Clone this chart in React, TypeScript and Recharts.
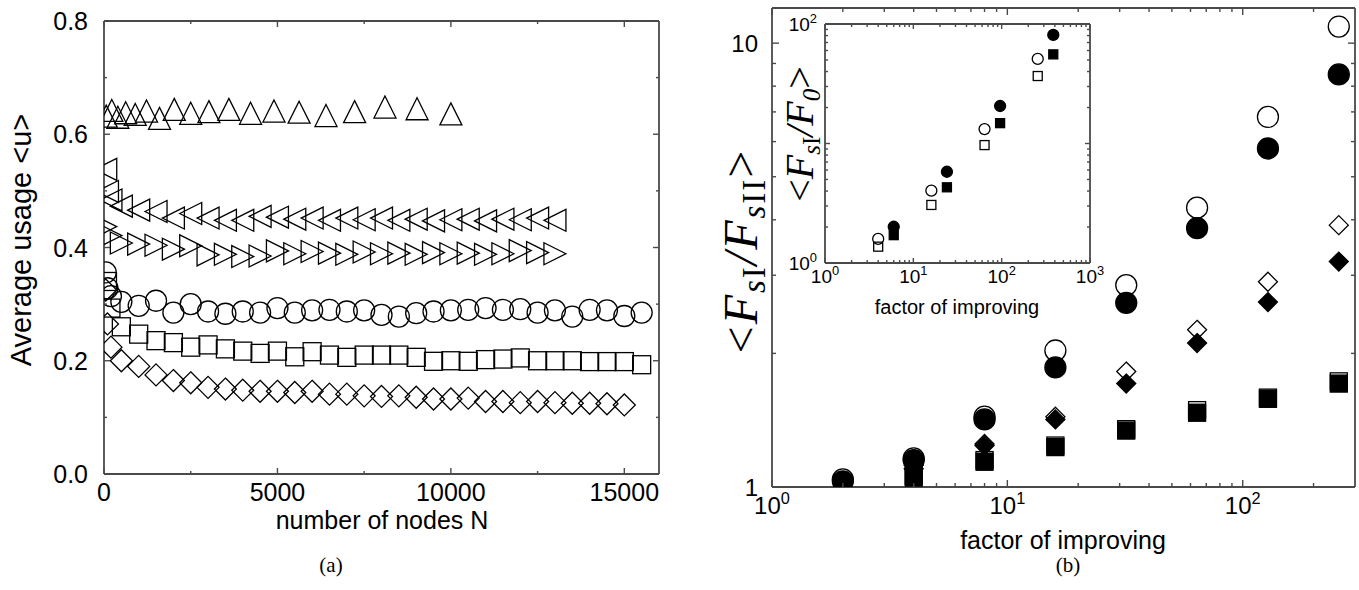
import React from "react";
import { ScatterChart, Scatter, XAxis, YAxis } from "recharts";

const SANS = "'Liberation Sans', Arial, Helvetica, sans-serif";
const SERIF = "'Liberation Serif', 'Times New Roman', serif";
const AX = "#4a4a4a";

// ---------- panel (a): average usage vs number of nodes ----------
const nLattice = [64, 225, 400, 625, 900, 1225, 1600, 2025, 2500, 3025, 3600, 4225, 4900, 5625, 6400, 7225, 8100, 9025, 10000];
const usageUp = [0.632, 0.642, 0.63, 0.638, 0.635, 0.641, 0.628, 0.644, 0.637, 0.64, 0.644, 0.637, 0.641, 0.639, 0.633, 0.64, 0.648, 0.645, 0.636];

const nSteps = [500, 1000, 1500, 2000, 2500, 3000, 3500, 4000, 4500, 5000, 5500, 6000, 6500, 7000, 7500, 8000, 8500, 9000, 9500, 10000, 10500, 11000, 11500, 12000, 12500, 13000, 13500, 14000, 14500, 15000, 15500];

const nLeft = [50, 100, 200, ...nSteps.slice(0, 26)];
const usageLeft = [0.538, 0.499, 0.484, 0.473, 0.466, 0.4635, 0.452, 0.46, 0.452, 0.448, 0.448, 0.455, 0.4535, 0.45, 0.452, 0.448, 0.452, 0.449, 0.452, 0.448, 0.45, 0.447, 0.449, 0.45, 0.447, 0.45, 0.449, 0.452, 0.448];

const nRight = [50, 200, ...nSteps.slice(0, 26)];
const usageRight = [0.437, 0.421, 0.408, 0.406, 0.404, 0.397, 0.403, 0.387, 0.388, 0.384, 0.385, 0.394, 0.389, 0.393, 0.39, 0.388, 0.392, 0.389, 0.39, 0.388, 0.391, 0.389, 0.39, 0.388, 0.389, 0.3945, 0.391, 0.389];

const nCircle = [50, 100, 200, ...nSteps];
const usageCircle = [0.356, 0.328, 0.314, 0.304, 0.297, 0.306, 0.285, 0.3, 0.287, 0.283, 0.287, 0.285, 0.293, 0.285, 0.289, 0.29, 0.287, 0.289, 0.281, 0.278, 0.284, 0.287, 0.289, 0.29, 0.293, 0.29, 0.291, 0.285, 0.289, 0.278, 0.29, 0.289, 0.279, 0.285];

const nSquare = [100, 200, ...nSteps];
const usageSquare = [0.34, 0.293, 0.26, 0.247, 0.2355, 0.232, 0.224, 0.228, 0.221, 0.217, 0.213, 0.217, 0.207, 0.216, 0.21, 0.206, 0.21, 0.21, 0.21, 0.206, 0.199, 0.2, 0.199, 0.202, 0.203, 0.205, 0.2, 0.2, 0.2, 0.1985, 0.1985, 0.1985, 0.193];

const nDiamond = [50, 100, 200, ...nSteps.slice(0, 30)];
const usageDiamond = [0.325, 0.265, 0.224, 0.2, 0.19, 0.175, 0.165, 0.161, 0.153, 0.15, 0.148, 0.146, 0.146, 0.144, 0.146, 0.141, 0.141, 0.138, 0.137, 0.138, 0.1355, 0.1325, 0.1325, 0.134, 0.128, 0.128, 0.126, 0.128, 0.126, 0.125, 0.125, 0.124, 0.122];

const xTicksA = [0, 2500, 5000, 7500, 10000, 12500, 15000];
const xMajorA = [0, 5000, 10000, 15000];
const yTicksA = [0, 0.1, 0.2, 0.3, 0.4, 0.5, 0.6, 0.7, 0.8];
const yMajorA = [0, 0.2, 0.4, 0.6, 0.8];

// ---------- panel (b): ratio vs factor of improving ----------
const factor = [2, 4, 8, 16, 32, 64, 128, 256];
const openCircle = [1.04, 1.16, 1.44, 2.03, 2.85, 4.26, 6.82, 10.9];
const filledCircle = [1.03, 1.15, 1.42, 1.86, 2.6, 3.83, 5.79, 8.5];
const openDiamond = [1.03, 1.12, 1.25, 1.44, 1.82, 2.26, 2.9, 3.89];
const filledDiamond = [1.02, 1.1, 1.24, 1.42, 1.71, 2.11, 2.61, 3.22];
const openSquare = [1.02, 1.06, 1.15, 1.24, 1.35, 1.49, 1.59, 1.73];
const filledSquare = [1.02, 1.05, 1.14, 1.23, 1.34, 1.47, 1.58, 1.71];

const xTicksB = [1, 2, 3, 4, 5, 6, 7, 8, 9, 10, 20, 30, 40, 50, 60, 70, 80, 90, 100, 200];
const yTicksB = [1, 2, 3, 4, 5, 6, 7, 8, 9, 10];

// inset
const insetOpenX = [4, 16, 64, 256];
const insetOpenCircle = [1.59, 4.03, 13.2, 51];
const insetOpenSquare = [1.37, 3.06, 9.7, 36.7];
const insetFilledX = [6, 24, 96, 384];
const insetFilledCircle = [2.01, 5.8, 20.6, 81];
const insetFilledSquare = [1.71, 4.3, 14.8, 55.7];

const xTicksIn = [1, 2, 3, 4, 5, 6, 7, 8, 9, 10, 20, 30, 40, 50, 60, 70, 80, 90, 100, 200, 300, 400, 500, 600, 700, 800, 900, 1000];
const yTicksIn = [1, 2, 3, 4, 5, 6, 7, 8, 9, 10, 20, 30, 40, 50, 60, 70, 80, 90, 100];
const decades = [1, 10, 100, 1000];

const pts = (xs: number[], ys: number[]) => xs.map((x, i) => ({ x, y: ys[i] }));

type Kind = "circle" | "square" | "diamond" | "up" | "left" | "right";

function Sym({ cx, cy, kind, size, filled }: { cx: number; cy: number; kind: Kind; size: number; filled?: boolean }) {
  const h = size / 2;
  const common = { fill: filled ? "#000" : "none", stroke: "#000", strokeWidth: 1.3 };
  if (kind === "circle") return <circle cx={cx} cy={cy} r={h} {...common} />;
  if (kind === "square") return <rect x={cx - h} y={cy - h} width={size} height={size} {...common} />;
  let p: number[][] = [];
  if (kind === "diamond") p = [[cx, cy - h], [cx + h, cy], [cx, cy + h], [cx - h, cy]];
  if (kind === "up") p = [[cx, cy - h], [cx + h, cy + h], [cx - h, cy + h]];
  if (kind === "left") p = [[cx - h, cy], [cx + h, cy - h], [cx + h, cy + h]];
  if (kind === "right") p = [[cx + h, cy], [cx - h, cy - h], [cx - h, cy + h]];
  return <polygon points={p.map((q) => q.join(",")).join(" ")} {...common} />;
}

const marker = (kind: Kind, size: number, filled = false) => (props: any) =>
  <Sym cx={props.cx} cy={props.cy} kind={kind} size={size} filled={filled} />;

type Side = "bottom" | "top" | "left" | "right";

function Pow({ k, fs }: { k: number; fs: number }) {
  return (
    <>
      <tspan>10</tspan>
      <tspan dy={-fs * 0.42} fontSize={fs * 0.68}>{k}</tspan>
    </>
  );
}

function makeTick(side: Side, majors: number[], long: number, short: number, label?: (v: number) => any, fs = 25, gap = 8) {
  return (p: any) => {
    const v = p.payload.value;
    const x = p.x;
    const y = p.y;
    const isMajor = majors.some((m) => Math.abs(m - v) < 1e-9);
    const L = isMajor ? long : short;
    let x2 = x;
    let y2 = y;
    if (side === "bottom") y2 = y - L;
    if (side === "top") y2 = y + L;
    if (side === "left") x2 = x + L;
    if (side === "right") x2 = x - L;
    let text = null;
    if (isMajor && label) {
      if (side === "bottom")
        text = (
          <text x={x} y={y + gap + fs * 0.72} textAnchor="middle" fontSize={fs} fontFamily={SANS} fill="#000">
            {label(v)}
          </text>
        );
      else
        text = (
          <text x={x - gap} y={y + fs * 0.36} textAnchor="end" fontSize={fs} fontFamily={SANS} fill="#000">
            {label(v)}
          </text>
        );
    }
    return (
      <g>
        <line x1={x} y1={y} x2={x2} y2={y2} stroke={AX} strokeWidth={1.4} />
        {text}
      </g>
    );
  };
}

const axisLine = { stroke: AX, strokeWidth: 1.8 };

// four axes around the plot: bottom/left carry labels, top/right only ticks
function Frame(props: {
  xDomain: number[]; yDomain: number[]; xTicks: number[]; yTicks: number[]; xMajor: number[]; yMajor: number[];
  log: boolean; long: number; short: number;
  xLabel?: (v: number) => any; yLabel?: (v: number) => any; fs: number; gap: number; yGap: number;
}) {
  const scale = props.log ? "log" : "linear";
  return [
    <XAxis key="xb" xAxisId="b" dataKey="x" type="number" scale={scale} domain={props.xDomain} allowDataOverflow ticks={props.xTicks}
      interval={0} height={1} tickSize={0} tickMargin={0} tickLine={false} axisLine={axisLine}
      tick={makeTick("bottom", props.xMajor, props.long, props.short, props.xLabel, props.fs, props.gap)} />,
    <XAxis key="xt" xAxisId="t" orientation="top" dataKey="x" type="number" scale={scale} domain={props.xDomain} allowDataOverflow ticks={props.xTicks}
      interval={0} height={1} tickSize={0} tickMargin={0} tickLine={false} axisLine={axisLine}
      tick={makeTick("top", props.xMajor, props.long, props.short)} />,
    <YAxis key="yl" yAxisId="l" dataKey="y" type="number" scale={scale} domain={props.yDomain} allowDataOverflow ticks={props.yTicks}
      interval={0} width={1} tickSize={0} tickMargin={0} tickLine={false} axisLine={axisLine}
      tick={makeTick("left", props.yMajor, props.long, props.short, props.yLabel, props.fs, props.yGap)} />,
    <YAxis key="yr" yAxisId="r" orientation="right" dataKey="y" type="number" scale={scale} domain={props.yDomain} allowDataOverflow ticks={props.yTicks}
      interval={0} width={1} tickSize={0} tickMargin={0} tickLine={false} axisLine={axisLine}
      tick={makeTick("right", props.yMajor, props.long, props.short)} />,
  ];
}

const S = (data: any[], shape: any, key: string) => (
  <Scatter key={key} xAxisId="b" yAxisId="l" data={data} shape={shape} isAnimationActive={false} />
);

function PanelA() {
  return (
    <ScatterChart width={680} height={590} margin={{ top: 20, right: 20, bottom: 115, left: 103 }}>
      {Frame({
        xDomain: [0, 16000], yDomain: [0, 0.8], xTicks: xTicksA, yTicks: yTicksA, xMajor: xMajorA, yMajor: yMajorA,
        log: false, long: 6, short: 3, xLabel: (v) => String(v), yLabel: (v) => v.toFixed(1), fs: 25, gap: 9, yGap: 16,
      })}
      {S(pts(nLattice, usageUp), marker("up", 22), "up")}
      {S(pts(nLeft, usageLeft), marker("left", 22), "left")}
      {S(pts(nRight, usageRight), marker("right", 22), "right")}
      {S(pts(nCircle, usageCircle), marker("circle", 21), "circle")}
      {S(pts(nSquare, usageSquare), marker("square", 18), "square")}
      {S(pts(nDiamond, usageDiamond), marker("diamond", 22), "diamond")}
    </ScatterChart>
  );
}

function PanelB() {
  return (
    <ScatterChart width={679} height={590} margin={{ top: 7, right: 3, bottom: 102, left: 91 }}>
      {Frame({
        xDomain: [1, 300], yDomain: [1, 12], xTicks: xTicksB, yTicks: yTicksB, xMajor: decades, yMajor: [1, 10],
        log: true, long: 7, short: 4,
        xLabel: (v) => <Pow k={Math.round(Math.log10(v))} fs={24} />, yLabel: (v) => String(v), fs: 24, gap: 10, yGap: 14,
      })}
      {S(pts(factor, openCircle), marker("circle", 21), "oc")}
      {S(pts(factor, filledCircle), marker("circle", 21, true), "fc")}
      {S(pts(factor, openDiamond), marker("diamond", 19), "od")}
      {S(pts(factor, filledDiamond), marker("diamond", 19, true), "fd")}
      {S(pts(factor, openSquare), marker("square", 17), "os")}
      {S(pts(factor, filledSquare), marker("square", 17, true), "fs")}
    </ScatterChart>
  );
}

function Inset() {
  return (
    <ScatterChart width={420} height={330} margin={{ top: 23, right: 29, bottom: 66, left: 124 }}>
      {Frame({
        xDomain: [1, 1000], yDomain: [1, 100], xTicks: xTicksIn, yTicks: yTicksIn, xMajor: decades, yMajor: [1, 10, 100],
        log: true, long: 5, short: 3,
        xLabel: (v) => <Pow k={Math.round(Math.log10(v))} fs={19} />,
        yLabel: (v) => (v === 10 ? "" : <Pow k={Math.round(Math.log10(v))} fs={19} />), fs: 19, gap: 6, yGap: 8,
      })}
      {S(pts(insetOpenX, insetOpenCircle), marker("circle", 11), "ioc")}
      {S(pts(insetOpenX, insetOpenSquare), marker("square", 9), "ios")}
      {S(pts(insetFilledX, insetFilledCircle), marker("circle", 11, true), "ifc")}
      {S(pts(insetFilledX, insetFilledSquare), marker("square", 9, true), "ifs")}
    </ScatterChart>
  );
}

export default function App() {
  return (
    <div style={{ position: "absolute", left: 0, top: 0, width: 1359, height: 590, background: "#fff" }}>
      <div style={{ position: "absolute", left: 0, top: 0 }}>
        <PanelA />
      </div>
      <div style={{ position: "absolute", left: 680, top: 0 }}>
        <PanelB />
      </div>
      <div style={{ position: "absolute", left: 700, top: 0 }}>
        <Inset />
      </div>
      <svg width={1359} height={590} style={{ position: "absolute", left: 0, top: 0, pointerEvents: "none" }}>
        <text x={0} y={0} transform="translate(31 240) rotate(-90)" textAnchor="middle" fontFamily={SANS} fontSize={29}>
          Average usage &lt;u&gt;
        </text>
        <text x={382} y={529} textAnchor="middle" fontFamily={SANS} fontSize={25}>
          number of nodes N
        </text>
        <text x={1063} y={549} textAnchor="middle" fontFamily={SANS} fontSize={25}>
          factor of improving
        </text>
        <text x={957} y={314} textAnchor="middle" fontFamily={SANS} fontSize={20}>
          factor of improving
        </text>
        <text x={0} y={0} transform="translate(757 251) rotate(-90)" textAnchor="middle" fontFamily={SERIF} fontSize={48} letterSpacing={2}>
          <tspan>&lt;</tspan>
          <tspan fontStyle="italic">F</tspan>
          <tspan fontSize={33} dy={8} fontStyle="italic">s</tspan>
          <tspan fontSize={33}>I</tspan>
          <tspan dy={-8} fontStyle="italic">/F</tspan>
          <tspan fontSize={33} dy={8} fontStyle="italic">s</tspan>
          <tspan fontSize={33}>II</tspan>
          <tspan dy={-8}>&gt;</tspan>
        </text>
        <text x={0} y={0} transform="translate(813 134) rotate(-90)" textAnchor="middle" fontFamily={SERIF} fontSize={40}>
          <tspan>&lt;</tspan>
          <tspan fontStyle="italic">F</tspan>
          <tspan fontSize={25} dy={7} fontStyle="italic">s</tspan>
          <tspan fontSize={25}>I</tspan>
          <tspan dy={-7} fontStyle="italic">/F</tspan>
          <tspan fontSize={25} dy={7} fontStyle="italic">0</tspan>
          <tspan dy={-7}>&gt;</tspan>
        </text>
        <text x={331} y={572} textAnchor="middle" fontFamily={SERIF} fontSize={21}>(a)</text>
        <text x={1068} y={572} textAnchor="middle" fontFamily={SERIF} fontSize={21}>(b)</text>
      </svg>
    </div>
  );
}
